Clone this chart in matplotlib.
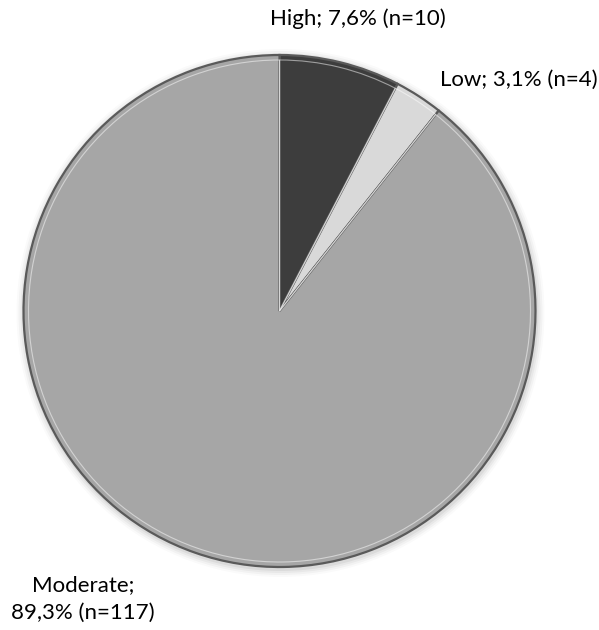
import matplotlib.pyplot as plt
from matplotlib.patches import Circle

# risk categories and counts
categories = ["High", "Low", "Moderate"]
counts = [10, 4, 117]
colors = ["#3d3d3d", "#d9d9d9", "#a6a6a6"]

total = sum(counts)
labels = []
for name, n in zip(categories, counts):
    pct = f"{n / total * 100:.1f}".replace(".", ",")
    labels.append(f"{name}; {pct}% (n={n})")

W, H = 599, 630
fig = plt.figure(figsize=(W / 100, H / 100), dpi=100)
ax = fig.add_axes([0, 0, 1, 1])

cx, cy, r = 279.5, H - 311, 256

# soft shadow under the pie
for i, a in enumerate([0.05, 0.04, 0.03, 0.02]):
    ax.add_patch(Circle((cx + 1, cy - 2), r + 2 + i * 2, color="black", alpha=a, lw=0, zorder=0))

wedges, _ = ax.pie(counts, colors=colors, startangle=90, counterclock=False,
                   center=(cx, cy), radius=r, explode=[0.012, 0.012, 0],
                   wedgeprops=dict(edgecolor="#5a5a5a", linewidth=1.6),
                   frame=True)
# inner bevel line
ax.pie(counts, colors=["none"] * 3, startangle=90, counterclock=False,
       center=(cx, cy), radius=r - 5, explode=[0.012, 0.012, 0],
       wedgeprops=dict(edgecolor="#ffffff", linewidth=0.8, alpha=0.5, fill=False),
       frame=True)
ax.set_xlim(0, W)
ax.set_ylim(0, H)
ax.set_aspect("equal")
ax.axis("off")

font = dict(family=["Lato", "DejaVu Sans"], fontsize=16, color="#000000")
ax.text(358, H - 19, labels[0], ha="center", va="center", **font)
ax.text(519, H - 80, labels[1], ha="center", va="center", **font)
mod_label = labels[2].replace("; ", ";\n")
ax.text(83, H - 599, mod_label, ha="center", va="center", linespacing=1.5, **font)

fig.savefig("out.png", dpi=100)
